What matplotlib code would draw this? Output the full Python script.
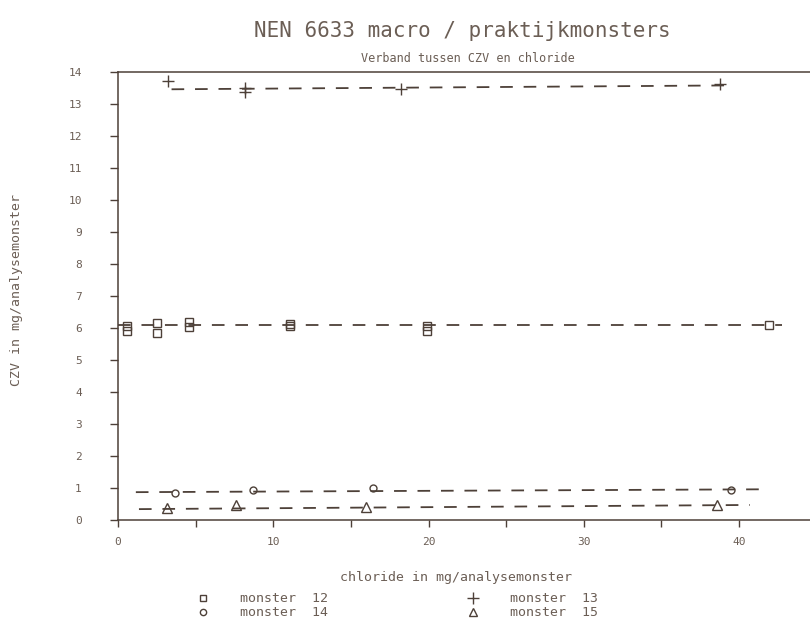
import matplotlib
matplotlib.use("Agg")
import matplotlib.pyplot as plt
from matplotlib.lines import Line2D
from matplotlib.ticker import MultipleLocator

# ---- data ----
m12_x = [0.55, 0.55, 2.5, 2.5, 4.6, 4.6, 11.05, 11.05, 19.9, 19.9, 41.95]
m12_y = [6.05, 5.90, 6.15, 5.85, 6.19, 6.02, 6.11, 6.06, 6.05, 5.92, 6.09]
m13_x = [3.2, 8.2, 8.2, 18.2, 38.8]
m13_y = [13.71, 13.50, 13.37, 13.48, 13.62]
m14_x = [3.7, 8.7, 16.4, 39.5]
m14_y = [0.84, 0.94, 0.99, 0.93]
m15_x = [3.13, 7.6, 16.0, 38.6]
m15_y = [0.37, 0.47, 0.42, 0.47]

# fitted lines (start / end) per monster
fit12_x = [0.0, 42.8];  fit12_y = [6.09, 6.09]
fit13_x = [3.45, 39.1]; fit13_y = [13.46, 13.58]
fit14_x = [1.15, 41.9]; fit14_y = [0.87, 0.96]
fit15_x = [1.35, 40.7]; fit15_y = [0.34, 0.47]

title = "NEN 6633 macro / praktijkmonsters"
subtitle = "Verband tussen CZV en chloride"
xlabel = "chloride in mg/analysemonster"
ylabel = "CZV in mg/analysemonster"
legend_labels = ["monster  12", "monster  13", "monster  14", "monster  15"]

# ---- style ----
ink = "#4d4038"
txt = "#6b5e55"
font = "DejaVu Sans Mono"
plt.rcParams["font.family"] = [font]

fig = plt.figure(figsize=(8.1, 6.25), dpi=100)
W, H = 810, 625
left, right, top, bottom = 118, 810, 72, 520
ax = fig.add_axes([left / W, 1 - bottom / H, (right - left) / W, (bottom - top) / H])
ax.set_xlim(0, (right - left) / 15.525)
ax.set_ylim(0, 14)

dash = dict(linestyle=(0, (7, 6)), color=ink, linewidth=1.3)
ax.plot(fit12_x, fit12_y, **dash)
ax.plot(fit13_x, fit13_y, **dash)
ax.plot(fit14_x, fit14_y, **dash)
ax.plot(fit15_x, fit15_y, **dash)

mk = dict(linestyle="none", markerfacecolor="none", markeredgecolor=ink, markeredgewidth=1.0)
ax.plot(m12_x, m12_y, marker="s", markersize=5.5, **mk)
ax.plot(m13_x, m13_y, marker="+", markersize=9, **mk)
ax.plot(m14_x, m14_y, marker="o", markersize=5, **mk)
ax.plot(m15_x, m15_y, marker="^", markersize=6.5, **mk)

for s in ["left", "bottom", "top"]:
    ax.spines[s].set_color(ink)
    ax.spines[s].set_linewidth(1.1)
ax.spines["right"].set_visible(False)

ax.yaxis.set_major_locator(MultipleLocator(1))
ax.xaxis.set_major_locator(MultipleLocator(10))
ax.xaxis.set_minor_locator(MultipleLocator(5))
ax.tick_params(axis="y", direction="out", length=6, width=1.0, color=ink,
               pad=20, labelsize=8, labelcolor=txt)
ax.tick_params(axis="x", which="both", direction="out", length=5, width=1.0, color=ink,
               pad=7, labelsize=8, labelcolor=txt)
ax.tick_params(top=False, right=False)

fig.text(462 / W, 1 - 31 / H, title, ha="center", va="center", fontsize=15, color=txt)
fig.text(468 / W, 1 - 59 / H, subtitle, ha="center", va="center", fontsize=8.5, color=txt)
fig.text(456 / W, 1 - 577 / H, xlabel, ha="center", va="center", fontsize=9.5, color=txt)
fig.text(17 / W, 1 - 290 / H, ylabel, ha="center", va="center", rotation=90,
         fontsize=9.5, color=txt)

# legend
leg_markers = ["s", "+", "o", "^"]
leg_sizes = [5, 8, 4.5, 6]
leg_pos = [(203, 598), (473, 598), (203, 612), (473, 612)]
for lab, m, ms, (px, py) in zip(legend_labels, leg_markers, leg_sizes, leg_pos):
    fig.add_artist(Line2D([px / W], [1 - py / H], transform=fig.transFigure, marker=m,
                          markersize=ms, linestyle="none", markerfacecolor="none",
                          markeredgecolor=ink, markeredgewidth=1.0))
    fig.text((px + 37) / W, 1 - py / H, lab, ha="left", va="center", fontsize=9.5, color=txt)

fig.savefig("out.png", dpi=100)
